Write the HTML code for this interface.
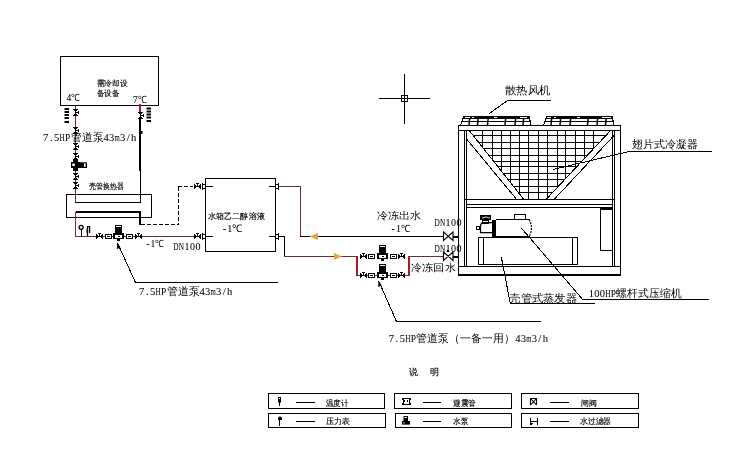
<!DOCTYPE html>
<html><head><meta charset="utf-8">
<style>
html,body{margin:0;padding:0;background:#fff;width:756px;height:459px;overflow:hidden}
svg{display:block;will-change:transform}
text{font-family:"Liberation Sans",sans-serif;stroke:#000;stroke-width:0.15px}
text.sf{font-family:"Liberation Serif",serif}
</style></head><body>
<svg width="756" height="459" viewBox="0 0 756 459">
<rect x="60" y="56" width="99" height="1" fill="#000"/>
<rect x="60" y="105" width="99" height="1" fill="#000"/>
<rect x="60" y="56" width="1" height="50" fill="#000"/>
<rect x="158" y="56" width="1" height="50" fill="#000"/>
<rect x="75" y="106" width="1" height="96" fill="#74283a"/>
<rect x="75" y="202" width="66" height="1" fill="#000"/>
<rect x="139" y="104" width="2" height="8" fill="#a31c2c"/>
<rect x="138" y="112" width="5" height="1" fill="#000"/>
<rect x="138" y="118" width="5" height="1" fill="#000"/>
<rect x="140" y="112" width="1" height="7" fill="#000"/>
<rect x="143" y="114" width="1" height="3" fill="#000"/>
<rect x="141" y="115" width="3" height="1" fill="#000"/>
<rect x="139" y="113" width="1" height="1" fill="#000"/>
<rect x="141" y="113" width="1" height="1" fill="#000"/>
<rect x="139" y="117" width="1" height="1" fill="#000"/>
<rect x="141" y="117" width="1" height="1" fill="#000"/>
<rect x="139" y="119" width="2" height="52" fill="#000"/>
<rect x="140" y="171" width="1" height="32" fill="#000"/>
<rect x="141" y="131" width="1.5" height="3" fill="#000"/>
<rect x="73" y="109" width="5" height="1" fill="#000"/>
<rect x="73" y="115" width="5" height="1" fill="#000"/>
<rect x="75" y="109" width="1" height="7" fill="#000"/>
<rect x="78" y="111" width="1" height="3" fill="#000"/>
<rect x="76" y="112" width="3" height="1" fill="#000"/>
<rect x="74" y="110" width="1" height="1" fill="#000"/>
<rect x="76" y="110" width="1" height="1" fill="#000"/>
<rect x="74" y="114" width="1" height="1" fill="#000"/>
<rect x="76" y="114" width="1" height="1" fill="#000"/>
<rect x="73" y="127" width="5" height="1" fill="#000"/>
<rect x="73" y="133" width="5" height="1" fill="#000"/>
<rect x="75" y="127" width="1" height="7" fill="#000"/>
<rect x="78" y="129" width="1" height="3" fill="#000"/>
<rect x="76" y="130" width="3" height="1" fill="#000"/>
<rect x="74" y="128" width="1" height="1" fill="#000"/>
<rect x="76" y="128" width="1" height="1" fill="#000"/>
<rect x="74" y="132" width="1" height="1" fill="#000"/>
<rect x="76" y="132" width="1" height="1" fill="#000"/>
<rect x="73" y="143" width="5" height="1" fill="#000"/>
<rect x="73" y="149" width="5" height="1" fill="#000"/>
<rect x="75" y="143" width="1" height="7" fill="#000"/>
<rect x="78" y="145" width="1" height="3" fill="#000"/>
<rect x="76" y="146" width="3" height="1" fill="#000"/>
<rect x="74" y="144" width="1" height="1" fill="#000"/>
<rect x="76" y="144" width="1" height="1" fill="#000"/>
<rect x="74" y="148" width="1" height="1" fill="#000"/>
<rect x="76" y="148" width="1" height="1" fill="#000"/>
<rect x="73" y="153" width="5" height="1" fill="#000"/>
<rect x="73" y="159" width="5" height="1" fill="#000"/>
<rect x="75" y="153" width="1" height="7" fill="#000"/>
<rect x="78" y="155" width="1" height="3" fill="#000"/>
<rect x="76" y="156" width="3" height="1" fill="#000"/>
<rect x="74" y="154" width="1" height="1" fill="#000"/>
<rect x="76" y="154" width="1" height="1" fill="#000"/>
<rect x="74" y="158" width="1" height="1" fill="#000"/>
<rect x="76" y="158" width="1" height="1" fill="#000"/>
<rect x="73" y="160" width="5" height="11" fill="#000"/>
<rect x="71" y="162" width="9" height="6" fill="#000"/><rect x="72.3" y="163.5" width="2.5" height="2.5" fill="#fff"/>
<rect x="80" y="162.3" width="7" height="5.7" fill="#000"/><rect x="84" y="163.3" width="1.6" height="3.6" fill="#fff"/>
<rect x="73" y="173" width="5" height="1" fill="#000"/>
<rect x="73" y="179" width="5" height="1" fill="#000"/>
<rect x="75" y="173" width="1" height="7" fill="#000"/>
<rect x="78" y="175" width="1" height="3" fill="#000"/>
<rect x="76" y="176" width="3" height="1" fill="#000"/>
<rect x="74" y="174" width="1" height="1" fill="#000"/>
<rect x="76" y="174" width="1" height="1" fill="#000"/>
<rect x="74" y="178" width="1" height="1" fill="#000"/>
<rect x="76" y="178" width="1" height="1" fill="#000"/>
<rect x="73" y="182" width="5" height="1" fill="#000"/>
<rect x="73" y="188" width="5" height="1" fill="#000"/>
<rect x="75" y="182" width="1" height="7" fill="#000"/>
<rect x="78" y="184" width="1" height="3" fill="#000"/>
<rect x="76" y="185" width="3" height="1" fill="#000"/>
<rect x="74" y="183" width="1" height="1" fill="#000"/>
<rect x="76" y="183" width="1" height="1" fill="#000"/>
<rect x="74" y="187" width="1" height="1" fill="#000"/>
<rect x="76" y="187" width="1" height="1" fill="#000"/>
<rect x="64.5" y="108" width="4.5" height="2" fill="#000"/>
<rect x="64.5" y="111" width="4.5" height="2" fill="#000"/>
<rect x="64.5" y="114" width="4.5" height="2" fill="#000"/>
<rect x="64.5" y="117" width="4.5" height="2" fill="#000"/>
<rect x="64.5" y="121" width="4.5" height="2" fill="#000"/>
<rect x="146.5" y="107.5" width="4.5" height="2" fill="#000"/>
<rect x="146.5" y="110.5" width="4.5" height="2" fill="#000"/>
<rect x="146.5" y="113.5" width="4.5" height="2" fill="#000"/>
<rect x="146.5" y="116.5" width="4.5" height="2" fill="#000"/>
<rect x="146.5" y="120" width="4.5" height="2" fill="#000"/>
<rect x="66" y="194" width="86" height="1" fill="#000"/>
<rect x="66" y="217" width="86" height="1" fill="#000"/>
<rect x="66" y="194" width="1" height="24" fill="#000"/>
<rect x="151" y="194" width="1" height="24" fill="#000"/>
<rect x="76" y="211" width="65" height="2" fill="#000"/>
<rect x="139" y="211" width="2" height="14" fill="#000"/>
<rect x="75" y="212" width="1" height="25" fill="#74283a"/>
<rect x="75" y="236" width="119" height="1" fill="#74283a"/>
<rect x="141" y="224" width="4" height="1" fill="#000"/>
<rect x="147" y="224" width="4" height="1" fill="#000"/>
<rect x="153" y="224" width="4" height="1" fill="#000"/>
<rect x="159" y="224" width="4" height="1" fill="#000"/>
<rect x="165" y="224" width="4" height="1" fill="#000"/>
<rect x="171" y="224" width="4" height="1" fill="#000"/>
<rect x="177" y="224" width="2" height="1" fill="#000"/>
<rect x="178" y="187" width="1" height="4" fill="#000"/>
<rect x="178" y="193" width="1" height="4" fill="#000"/>
<rect x="178" y="199" width="1" height="4" fill="#000"/>
<rect x="178" y="205" width="1" height="4" fill="#000"/>
<rect x="178" y="211" width="1" height="4" fill="#000"/>
<rect x="178" y="217" width="1" height="4" fill="#000"/>
<rect x="178" y="223" width="1" height="2" fill="#000"/>
<rect x="178" y="186" width="4" height="1" fill="#000"/>
<rect x="184" y="186" width="4" height="1" fill="#000"/>
<rect x="190" y="186" width="3" height="1" fill="#000"/>
<circle cx="81.1" cy="227.3" r="2" fill="#fff" stroke="#000" stroke-width="1.3"/>
<rect x="81" y="229" width="1" height="8" fill="#000"/>
<path d="M87.5,236 V226.6 H89.6 V233" stroke="#000" stroke-width="1.2" fill="none"/>
<rect x="86.5" y="229" width="1.6" height="4" fill="#000"/>
<rect x="96" y="234" width="1" height="5" fill="#000"/>
<rect x="102" y="234" width="1" height="5" fill="#000"/>
<rect x="96" y="236" width="7" height="1" fill="#000"/>
<rect x="98" y="233" width="3" height="1" fill="#000"/>
<rect x="99" y="233" width="1" height="3" fill="#000"/>
<rect x="97" y="235" width="1" height="1" fill="#000"/>
<rect x="97" y="237" width="1" height="1" fill="#000"/>
<rect x="101" y="235" width="1" height="1" fill="#000"/>
<rect x="101" y="237" width="1" height="1" fill="#000"/>
<rect x="105" y="234" width="7" height="5" fill="#fff"/>
<rect x="105" y="234" width="7" height="1" fill="#000"/>
<rect x="105" y="238" width="7" height="1" fill="#000"/>
<rect x="105" y="234" width="1" height="5" fill="#000"/>
<rect x="111" y="234" width="1" height="5" fill="#000"/>
<rect x="107" y="236" width="3" height="1" fill="#000"/>
<rect x="105" y="238" width="7" height="1" fill="#000"/>
<rect x="115" y="225" width="7" height="9" fill="#000"/>
<rect x="116" y="226" width="5" height="1" fill="#fff"/>
<rect x="113" y="233" width="11" height="6" fill="#000"/>
<rect x="115" y="235" width="7" height="3" fill="#fff"/>
<rect x="118" y="236" width="2" height="1" fill="#000"/>
<rect x="117" y="239" width="3" height="2" fill="#000"/>
<rect x="126" y="234" width="7" height="5" fill="#fff"/>
<rect x="126" y="234" width="7" height="1" fill="#000"/>
<rect x="126" y="238" width="7" height="1" fill="#000"/>
<rect x="126" y="234" width="1" height="5" fill="#000"/>
<rect x="132" y="234" width="1" height="5" fill="#000"/>
<rect x="128" y="236" width="3" height="1" fill="#000"/>
<rect x="126" y="238" width="7" height="1" fill="#000"/>
<rect x="135" y="234" width="1" height="5" fill="#000"/>
<rect x="141" y="234" width="1" height="5" fill="#000"/>
<rect x="135" y="236" width="7" height="1" fill="#000"/>
<rect x="137" y="233" width="3" height="1" fill="#000"/>
<rect x="138" y="233" width="1" height="3" fill="#000"/>
<rect x="136" y="235" width="1" height="1" fill="#000"/>
<rect x="136" y="237" width="1" height="1" fill="#000"/>
<rect x="140" y="235" width="1" height="1" fill="#000"/>
<rect x="140" y="237" width="1" height="1" fill="#000"/>
<rect x="205" y="178" width="71" height="1" fill="#000"/>
<rect x="205" y="251" width="71" height="1" fill="#000"/>
<rect x="205" y="178" width="1" height="74" fill="#000"/>
<rect x="275" y="178" width="1" height="74" fill="#000"/>
<rect x="194" y="184" width="1" height="5" fill="#000"/>
<rect x="200" y="184" width="1" height="5" fill="#000"/>
<rect x="194" y="186" width="7" height="1" fill="#000"/>
<rect x="196" y="183" width="3" height="1" fill="#000"/>
<rect x="197" y="183" width="1" height="3" fill="#000"/>
<rect x="195" y="185" width="1" height="1" fill="#000"/>
<rect x="195" y="187" width="1" height="1" fill="#000"/>
<rect x="199" y="185" width="1" height="1" fill="#000"/>
<rect x="199" y="187" width="1" height="1" fill="#000"/>
<rect x="202" y="183" width="1" height="7" fill="#000"/>
<rect x="202" y="184" width="4" height="1" fill="#000"/>
<rect x="202" y="188" width="4" height="1" fill="#000"/>
<rect x="202" y="184" width="1" height="5" fill="#000"/>
<rect x="205" y="184" width="1" height="5" fill="#000"/>
<rect x="205" y="186" width="8" height="1" fill="#000"/>
<rect x="269" y="186" width="7" height="1" fill="#000"/>
<rect x="275" y="184" width="4" height="1" fill="#000"/>
<rect x="275" y="188" width="4" height="1" fill="#000"/>
<rect x="275" y="184" width="1" height="5" fill="#000"/>
<rect x="278" y="184" width="1" height="5" fill="#000"/>
<rect x="278" y="183" width="1" height="7" fill="#000"/>
<rect x="194" y="234" width="1" height="5" fill="#000"/>
<rect x="200" y="234" width="1" height="5" fill="#000"/>
<rect x="194" y="236" width="7" height="1" fill="#000"/>
<rect x="196" y="233" width="3" height="1" fill="#000"/>
<rect x="197" y="233" width="1" height="3" fill="#000"/>
<rect x="195" y="235" width="1" height="1" fill="#000"/>
<rect x="195" y="237" width="1" height="1" fill="#000"/>
<rect x="199" y="235" width="1" height="1" fill="#000"/>
<rect x="199" y="237" width="1" height="1" fill="#000"/>
<rect x="202" y="233" width="1" height="7" fill="#000"/>
<rect x="202" y="234" width="4" height="1" fill="#000"/>
<rect x="202" y="238" width="4" height="1" fill="#000"/>
<rect x="202" y="234" width="1" height="5" fill="#000"/>
<rect x="205" y="234" width="1" height="5" fill="#000"/>
<rect x="205" y="236" width="8" height="1" fill="#000"/>
<rect x="269" y="236" width="7" height="1" fill="#000"/>
<rect x="275" y="234" width="4" height="1" fill="#000"/>
<rect x="275" y="238" width="4" height="1" fill="#000"/>
<rect x="275" y="234" width="1" height="5" fill="#000"/>
<rect x="278" y="234" width="1" height="5" fill="#000"/>
<rect x="278" y="233" width="1" height="7" fill="#000"/>
<rect x="279" y="186" width="22" height="1" fill="#74283a"/>
<rect x="300" y="186" width="1" height="51" fill="#74283a"/>
<rect x="300" y="236" width="144" height="1" fill="#000"/>
<rect x="279" y="236" width="6" height="1" fill="#000"/>
<rect x="284" y="236" width="1" height="21" fill="#000"/>
<rect x="284" y="256" width="73" height="1" fill="#74283a"/>
<rect x="356" y="256" width="2" height="20" fill="#a31c2c"/>
<rect x="408" y="256" width="2" height="20" fill="#a31c2c"/>
<rect x="356" y="275" width="54" height="1" fill="#74283a"/>
<rect x="409" y="256" width="35" height="1" fill="#74283a"/>
<rect x="360" y="254" width="1" height="5" fill="#000"/>
<rect x="366" y="254" width="1" height="5" fill="#000"/>
<rect x="360" y="256" width="7" height="1" fill="#000"/>
<rect x="362" y="253" width="3" height="1" fill="#000"/>
<rect x="363" y="253" width="1" height="3" fill="#000"/>
<rect x="361" y="255" width="1" height="1" fill="#000"/>
<rect x="361" y="257" width="1" height="1" fill="#000"/>
<rect x="365" y="255" width="1" height="1" fill="#000"/>
<rect x="365" y="257" width="1" height="1" fill="#000"/>
<rect x="368" y="254" width="7" height="5" fill="#fff"/>
<rect x="368" y="254" width="7" height="1" fill="#000"/>
<rect x="368" y="258" width="7" height="1" fill="#000"/>
<rect x="368" y="254" width="1" height="5" fill="#000"/>
<rect x="374" y="254" width="1" height="5" fill="#000"/>
<rect x="370" y="256" width="3" height="1" fill="#000"/>
<rect x="368" y="258" width="7" height="1" fill="#000"/>
<rect x="379" y="245" width="7" height="9" fill="#000"/>
<rect x="380" y="246" width="5" height="1" fill="#fff"/>
<rect x="377" y="253" width="11" height="6" fill="#000"/>
<rect x="379" y="255" width="7" height="3" fill="#fff"/>
<rect x="382" y="256" width="2" height="1" fill="#000"/>
<rect x="381" y="259" width="3" height="2" fill="#000"/>
<rect x="390" y="254" width="7" height="5" fill="#fff"/>
<rect x="390" y="254" width="7" height="1" fill="#000"/>
<rect x="390" y="258" width="7" height="1" fill="#000"/>
<rect x="390" y="254" width="1" height="5" fill="#000"/>
<rect x="396" y="254" width="1" height="5" fill="#000"/>
<rect x="392" y="256" width="3" height="1" fill="#000"/>
<rect x="390" y="258" width="7" height="1" fill="#000"/>
<rect x="398" y="254" width="1" height="5" fill="#000"/>
<rect x="404" y="254" width="1" height="5" fill="#000"/>
<rect x="398" y="256" width="7" height="1" fill="#000"/>
<rect x="400" y="253" width="3" height="1" fill="#000"/>
<rect x="401" y="253" width="1" height="3" fill="#000"/>
<rect x="399" y="255" width="1" height="1" fill="#000"/>
<rect x="399" y="257" width="1" height="1" fill="#000"/>
<rect x="403" y="255" width="1" height="1" fill="#000"/>
<rect x="403" y="257" width="1" height="1" fill="#000"/>
<rect x="360" y="273" width="1" height="5" fill="#000"/>
<rect x="366" y="273" width="1" height="5" fill="#000"/>
<rect x="360" y="275" width="7" height="1" fill="#000"/>
<rect x="362" y="272" width="3" height="1" fill="#000"/>
<rect x="363" y="272" width="1" height="3" fill="#000"/>
<rect x="361" y="274" width="1" height="1" fill="#000"/>
<rect x="361" y="276" width="1" height="1" fill="#000"/>
<rect x="365" y="274" width="1" height="1" fill="#000"/>
<rect x="365" y="276" width="1" height="1" fill="#000"/>
<rect x="368" y="273" width="7" height="5" fill="#fff"/>
<rect x="368" y="273" width="7" height="1" fill="#000"/>
<rect x="368" y="277" width="7" height="1" fill="#000"/>
<rect x="368" y="273" width="1" height="5" fill="#000"/>
<rect x="374" y="273" width="1" height="5" fill="#000"/>
<rect x="370" y="275" width="3" height="1" fill="#000"/>
<rect x="368" y="277" width="7" height="1" fill="#000"/>
<rect x="379" y="264" width="7" height="9" fill="#000"/>
<rect x="380" y="265" width="5" height="1" fill="#fff"/>
<rect x="377" y="272" width="11" height="6" fill="#000"/>
<rect x="379" y="274" width="7" height="3" fill="#fff"/>
<rect x="382" y="275" width="2" height="1" fill="#000"/>
<rect x="381" y="278" width="3" height="2" fill="#000"/>
<rect x="390" y="273" width="7" height="5" fill="#fff"/>
<rect x="390" y="273" width="7" height="1" fill="#000"/>
<rect x="390" y="277" width="7" height="1" fill="#000"/>
<rect x="390" y="273" width="1" height="5" fill="#000"/>
<rect x="396" y="273" width="1" height="5" fill="#000"/>
<rect x="392" y="275" width="3" height="1" fill="#000"/>
<rect x="390" y="277" width="7" height="1" fill="#000"/>
<rect x="398" y="273" width="1" height="5" fill="#000"/>
<rect x="404" y="273" width="1" height="5" fill="#000"/>
<rect x="398" y="275" width="7" height="1" fill="#000"/>
<rect x="400" y="272" width="3" height="1" fill="#000"/>
<rect x="401" y="272" width="1" height="3" fill="#000"/>
<rect x="399" y="274" width="1" height="1" fill="#000"/>
<rect x="399" y="276" width="1" height="1" fill="#000"/>
<rect x="403" y="274" width="1" height="1" fill="#000"/>
<rect x="403" y="276" width="1" height="1" fill="#000"/>
<path d="M309.5,236.5 L318,233 L318,240Z" fill="#e8a040"/>
<path d="M342,256.5 L334,253 L334,260Z" fill="#e8a040"/>
<path d="M443.5,232V240.5 L453,232 V240.5Z" stroke="#000" stroke-width="1.1" fill="#fff"/>
<rect x="453" y="236" width="5" height="2" fill="#000"/>
<path d="M443.5,252V260.5 L453,252 V260.5Z" stroke="#000" stroke-width="1.1" fill="#fff"/>
<rect x="453" y="256" width="5" height="2" fill="#000"/>
<rect x="447" y="250" width="2" height="2" fill="#000"/>
<g fill="none" stroke="#000" stroke-width="1">
<path d="M117.5,243 L135.5,282.5" stroke="#000" stroke-width="1" fill="none" shape-rendering="crispEdges"/>
<path d="M378.7,281 L396.5,321.5" stroke="#000" stroke-width="1" fill="none" shape-rendering="crispEdges"/>
<path d="M489,113.7 L507.5,100.5" stroke="#000" stroke-width="1" fill="none" shape-rendering="crispEdges"/>
<path d="M553,169.5 L629,151.5" stroke="#000" stroke-width="1" fill="none" shape-rendering="crispEdges"/>
<path d="M501.3,256.7 L510.2,303" stroke="#000" stroke-width="1" fill="none" shape-rendering="crispEdges"/>
<path d="M521.3,228 L582.7,299.5" stroke="#000" stroke-width="1" fill="none" shape-rendering="crispEdges"/>
</g>
<rect x="135" y="282" width="143" height="1" fill="#000"/>
<rect x="396" y="321" width="145" height="1" fill="#000"/>
<rect x="507" y="100" width="44" height="1" fill="#000"/>
<rect x="629" y="151" width="83" height="1" fill="#000"/>
<rect x="510" y="303" width="85" height="1" fill="#000"/>
<rect x="582" y="299" width="127" height="1" fill="#000"/>
<path d="M117.2,242.5 L116.8,249 L120.5,247.5Z" fill="#000"/>
<path d="M378.5,280.5 L378.2,287 L381.8,285.5Z" fill="#000"/>
<rect x="379" y="98" width="51" height="1" fill="#000"/>
<rect x="404" y="74" width="1" height="50" fill="#000"/>
<rect x="401" y="95" width="7" height="1" fill="#000"/>
<rect x="401" y="101" width="7" height="1" fill="#000"/>
<rect x="401" y="95" width="1" height="7" fill="#000"/>
<rect x="407" y="95" width="1" height="7" fill="#000"/>
<rect x="402" y="96" width="5" height="5" fill="#fff"/>
<rect x="402" y="98" width="5" height="1" fill="#000"/>
<rect x="404" y="96" width="1" height="5" fill="#000"/>
<rect x="463" y="116" width="67" height="3" fill="#000"/>
<rect x="465" y="117" width="5" height="1" fill="#fff"/>
<rect x="472" y="117" width="2" height="1" fill="#fff"/>
<rect x="494" y="117" width="3" height="1" fill="#fff"/>
<rect x="520" y="117" width="7" height="1" fill="#fff"/>
<rect x="462" y="121" width="69" height="1" fill="#000"/>
<path d="M463.5,117 L460.5,125.5 M529.5,117 L530.8,125.5" stroke="#000" stroke-width="1.2" fill="none" shape-rendering="crispEdges"/>
<path d="M469.7,118 L469,125" stroke="#000" stroke-width="1.5" fill="none"/>
<path d="M478.2,118 L477.5,125" stroke="#000" stroke-width="1.5" fill="none"/>
<path d="M488.2,118 L487.5,125" stroke="#000" stroke-width="1.5" fill="none"/>
<path d="M505.7,118 L505,125" stroke="#000" stroke-width="1.5" fill="none"/>
<path d="M515.7,118 L515,125" stroke="#000" stroke-width="1.5" fill="none"/>
<path d="M523.7,118 L523,125" stroke="#000" stroke-width="1.5" fill="none"/>
<rect x="546" y="116" width="67" height="3" fill="#000"/>
<rect x="547" y="117" width="4" height="1" fill="#fff"/>
<rect x="554" y="117" width="2" height="1" fill="#fff"/>
<rect x="577" y="117" width="3" height="1" fill="#fff"/>
<rect x="602" y="117" width="9" height="1" fill="#fff"/>
<rect x="545" y="121" width="69" height="1" fill="#000"/>
<path d="M546.5,117 L543.5,125.5 M612.5,117 L613.8,125.5" stroke="#000" stroke-width="1.2" fill="none" shape-rendering="crispEdges"/>
<path d="M551.7,118 L551,125" stroke="#000" stroke-width="1.5" fill="none"/>
<path d="M560.7,118 L560,125" stroke="#000" stroke-width="1.5" fill="none"/>
<path d="M570.7,118 L570,125" stroke="#000" stroke-width="1.5" fill="none"/>
<path d="M588.2,118 L587.5,125" stroke="#000" stroke-width="1.5" fill="none"/>
<path d="M597.7,118 L597,125" stroke="#000" stroke-width="1.5" fill="none"/>
<path d="M606.2,118 L605.5,125" stroke="#000" stroke-width="1.5" fill="none"/>
<rect x="458" y="125" width="163" height="1" fill="#000"/>
<rect x="458" y="275" width="163" height="1" fill="#000"/>
<rect x="458" y="125" width="1" height="151" fill="#000"/>
<rect x="620" y="125" width="1" height="151" fill="#000"/>
<rect x="458" y="274" width="163" height="2" fill="#000"/>
<rect x="458" y="130" width="163" height="1" fill="#000"/>
<rect x="464" y="130" width="1" height="137" fill="#000"/>
<rect x="466" y="130" width="1" height="137" fill="#000"/>
<rect x="612" y="130" width="1" height="137" fill="#000"/>
<rect x="614" y="130" width="1" height="137" fill="#000"/>
<rect x="464" y="199" width="151" height="1" fill="#000"/>
<rect x="466" y="204" width="147" height="1" fill="#000"/>
<rect x="466" y="207" width="147" height="1" fill="#000"/>
<rect x="458" y="266" width="163" height="1" fill="#000"/>
<clipPath id="vclip"><path d="M469.2,130.5 L523.75,199.2 L546.25,199.2 L610.4,130.5Z"/></clipPath>
<g clip-path="url(#vclip)">
<rect x="482" y="130" width="1" height="70" fill="#000"/>
<rect x="492" y="130" width="1" height="70" fill="#000"/>
<rect x="501" y="130" width="1" height="70" fill="#000"/>
<rect x="510" y="130" width="1" height="70" fill="#000"/>
<rect x="519" y="130" width="1" height="70" fill="#000"/>
<rect x="528" y="130" width="1" height="70" fill="#000"/>
<rect x="538" y="130" width="1" height="70" fill="#000"/>
<rect x="547" y="130" width="1" height="70" fill="#000"/>
<rect x="557" y="130" width="1" height="70" fill="#000"/>
<rect x="565" y="130" width="1" height="70" fill="#000"/>
<rect x="575" y="130" width="1" height="70" fill="#000"/>
<rect x="584" y="130" width="1" height="70" fill="#000"/>
<rect x="593" y="130" width="1" height="70" fill="#000"/>
<rect x="466" y="135" width="149" height="1" fill="#000"/>
<rect x="466" y="142" width="149" height="1" fill="#000"/>
<rect x="466" y="148" width="149" height="1" fill="#000"/>
<rect x="466" y="155" width="149" height="1" fill="#000"/>
<rect x="466" y="161" width="149" height="1" fill="#000"/>
<rect x="466" y="166" width="149" height="1" fill="#000"/>
<rect x="466" y="173" width="149" height="1" fill="#000"/>
<rect x="466" y="179" width="149" height="1" fill="#000"/>
<rect x="466" y="186" width="149" height="1" fill="#000"/>
<rect x="466" y="192" width="149" height="1" fill="#000"/>
</g>
<g fill="none" stroke="#000" stroke-width="1.1">
<path d="M469.2,130.5 L523.75,199.3" stroke="#000" stroke-width="1" fill="none" shape-rendering="crispEdges"/>
<path d="M467,139.5 L516.5,199.3" stroke="#000" stroke-width="1" fill="none" shape-rendering="crispEdges"/>
<path d="M610.6,130.5 L546.25,199.3" stroke="#000" stroke-width="1" fill="none" shape-rendering="crispEdges"/>
<path d="M614.5,135 L554.2,199.3" stroke="#000" stroke-width="1" fill="none" shape-rendering="crispEdges"/>
</g>
<rect x="480" y="215" width="11" height="5" fill="#000"/>
<path d="M482,217.8 h2 l1,-0.8 h2 l1,0.8 h2" stroke="#fff" stroke-width="0.9" fill="none"/>
<rect x="482" y="220" width="7" height="1" fill="#000"/>
<rect x="482" y="223" width="7" height="1" fill="#000"/>
<rect x="482" y="220" width="1" height="4" fill="#000"/>
<rect x="488" y="220" width="1" height="4" fill="#000"/>
<path d="M492.3,222.6 H483.5 Q480.5,223 480.5,226.5 V232.6 H492.3" stroke="#000" stroke-width="1.2" fill="none"/>
<rect x="476" y="226" width="4" height="1" fill="#000"/>
<rect x="476" y="229" width="4" height="1" fill="#000"/>
<rect x="476" y="226" width="1" height="4" fill="#000"/>
<rect x="479" y="226" width="1" height="4" fill="#000"/>
<rect x="492" y="220" width="4" height="17" fill="#000"/>
<rect x="496" y="219" width="34" height="1" fill="#000"/>
<rect x="492" y="236" width="38" height="2" fill="#000"/>
<path d="M529,219.5 Q534,228 529,236.5" stroke="#000" stroke-width="1.2" fill="none" stroke-dasharray="2,1"/>
<rect x="514" y="214" width="12" height="1" fill="#000"/>
<rect x="514" y="219" width="12" height="1" fill="#000"/>
<rect x="514" y="214" width="1" height="6" fill="#000"/>
<rect x="525" y="214" width="1" height="6" fill="#000"/>
<rect x="478" y="237" width="100" height="1" fill="#000"/>
<rect x="478" y="264" width="100" height="1" fill="#000"/>
<rect x="478" y="237" width="1" height="28" fill="#000"/>
<rect x="577" y="237" width="1" height="28" fill="#000"/>
<rect x="483" y="237" width="1" height="28" fill="#000"/>
<rect x="572" y="237" width="1" height="28" fill="#000"/>
<rect x="600" y="208" width="13" height="1" fill="#000"/>
<rect x="600" y="250" width="13" height="1" fill="#000"/>
<rect x="600" y="208" width="1" height="43" fill="#000"/>
<rect x="612" y="208" width="1" height="43" fill="#000"/>
<rect x="600" y="208" width="13" height="2" fill="#000"/>
<text x="96.7" y="86.2" font-size="7.5" fill="#000" textLength="30.80" lengthAdjust="spacingAndGlyphs">需冷却设</text>
<text x="96.7" y="95.8" font-size="7.5" fill="#000" textLength="22.80" lengthAdjust="spacingAndGlyphs">备设备</text>
<text x="89" y="188.5" font-size="7.5" fill="#000" textLength="34.50" lengthAdjust="spacingAndGlyphs">壳管换热器</text>
<text x="208.3" y="219" font-size="7.5" fill="#000" textLength="56.35" lengthAdjust="spacingAndGlyphs">水箱乙二醇溶液</text>
<text x="66.40" y="101.2" font-size="10" class="sf" fill="#000" style="stroke-width:0.06px" textLength="4.80" lengthAdjust="spacingAndGlyphs">4</text>
<text x="71.30" y="101.2" font-size="10" fill="#000" style="stroke:none" textLength="8.82" lengthAdjust="spacingAndGlyphs">℃</text>
<text x="132.90" y="103" font-size="10" class="sf" fill="#000" style="stroke-width:0.06px" textLength="4.80" lengthAdjust="spacingAndGlyphs">7</text>
<text x="137.80" y="103" font-size="10" fill="#000" style="stroke:none" textLength="8.82" lengthAdjust="spacingAndGlyphs">℃</text>
<text x="146.14" y="247.3" font-size="10" class="sf" fill="#000" style="stroke-width:0.06px">-</text>
<text x="150.40" y="247.3" font-size="10" class="sf" fill="#000" style="stroke-width:0.06px" textLength="4.80" lengthAdjust="spacingAndGlyphs">1</text>
<text x="155.30" y="247.3" font-size="10" fill="#000" style="stroke:none" textLength="8.82" lengthAdjust="spacingAndGlyphs">℃</text>
<text x="222.70" y="232" font-size="10.5" class="sf" fill="#000" style="stroke-width:0.06px">-</text>
<text x="227.21" y="232" font-size="10.5" class="sf" fill="#000" style="stroke-width:0.06px" textLength="5.09" lengthAdjust="spacingAndGlyphs">1</text>
<text x="232.40" y="232" font-size="10.5" fill="#000" style="stroke:none" textLength="9.80" lengthAdjust="spacingAndGlyphs">℃</text>
<text x="43.11" y="140.8" font-size="11" class="sf" fill="#000" style="stroke-width:0.06px" textLength="5.28" lengthAdjust="spacingAndGlyphs">7</text>
<text x="49.88" y="140.8" font-size="11" class="sf" fill="#000" style="stroke-width:0.06px">.</text>
<text x="54.11" y="140.8" font-size="11" class="sf" fill="#000" style="stroke-width:0.06px" textLength="5.28" lengthAdjust="spacingAndGlyphs">5</text>
<text x="59.61" y="140.8" font-size="11" class="sf" fill="#000" style="stroke-width:0.06px" textLength="5.28" lengthAdjust="spacingAndGlyphs">H</text>
<text x="65.11" y="140.8" font-size="11" class="sf" fill="#000" style="stroke-width:0.06px" textLength="5.28" lengthAdjust="spacingAndGlyphs">P</text>
<text x="70.50" y="140.8" font-size="11" fill="#000" style="stroke:none" textLength="10.78" lengthAdjust="spacingAndGlyphs">管</text>
<text x="81.50" y="140.8" font-size="11" fill="#000" style="stroke:none" textLength="10.78" lengthAdjust="spacingAndGlyphs">道</text>
<text x="92.50" y="140.8" font-size="11" fill="#000" style="stroke:none" textLength="10.78" lengthAdjust="spacingAndGlyphs">泵</text>
<text x="103.61" y="140.8" font-size="11" class="sf" fill="#000" style="stroke-width:0.06px" textLength="5.28" lengthAdjust="spacingAndGlyphs">4</text>
<text x="109.11" y="140.8" font-size="11" class="sf" fill="#000" style="stroke-width:0.06px" textLength="5.28" lengthAdjust="spacingAndGlyphs">3</text>
<text x="114.61" y="140.8" font-size="11" class="sf" fill="#000" style="stroke-width:0.06px" textLength="5.28" lengthAdjust="spacingAndGlyphs">m</text>
<text x="120.11" y="140.8" font-size="11" class="sf" fill="#000" style="stroke-width:0.06px" textLength="5.28" lengthAdjust="spacingAndGlyphs">3</text>
<text x="126.72" y="140.8" font-size="11" class="sf" fill="#000" style="stroke-width:0.06px">/</text>
<text x="131.11" y="140.8" font-size="11" class="sf" fill="#000" style="stroke-width:0.06px" textLength="5.28" lengthAdjust="spacingAndGlyphs">h</text>
<text x="139.11" y="295" font-size="11" class="sf" fill="#000" style="stroke-width:0.06px" textLength="5.28" lengthAdjust="spacingAndGlyphs">7</text>
<text x="145.88" y="295" font-size="11" class="sf" fill="#000" style="stroke-width:0.06px">.</text>
<text x="150.11" y="295" font-size="11" class="sf" fill="#000" style="stroke-width:0.06px" textLength="5.28" lengthAdjust="spacingAndGlyphs">5</text>
<text x="155.61" y="295" font-size="11" class="sf" fill="#000" style="stroke-width:0.06px" textLength="5.28" lengthAdjust="spacingAndGlyphs">H</text>
<text x="161.11" y="295" font-size="11" class="sf" fill="#000" style="stroke-width:0.06px" textLength="5.28" lengthAdjust="spacingAndGlyphs">P</text>
<text x="166.50" y="295" font-size="11" fill="#000" style="stroke:none" textLength="10.78" lengthAdjust="spacingAndGlyphs">管</text>
<text x="177.50" y="295" font-size="11" fill="#000" style="stroke:none" textLength="10.78" lengthAdjust="spacingAndGlyphs">道</text>
<text x="188.50" y="295" font-size="11" fill="#000" style="stroke:none" textLength="10.78" lengthAdjust="spacingAndGlyphs">泵</text>
<text x="199.61" y="295" font-size="11" class="sf" fill="#000" style="stroke-width:0.06px" textLength="5.28" lengthAdjust="spacingAndGlyphs">4</text>
<text x="205.11" y="295" font-size="11" class="sf" fill="#000" style="stroke-width:0.06px" textLength="5.28" lengthAdjust="spacingAndGlyphs">3</text>
<text x="210.61" y="295" font-size="11" class="sf" fill="#000" style="stroke-width:0.06px" textLength="5.28" lengthAdjust="spacingAndGlyphs">m</text>
<text x="216.11" y="295" font-size="11" class="sf" fill="#000" style="stroke-width:0.06px" textLength="5.28" lengthAdjust="spacingAndGlyphs">3</text>
<text x="222.72" y="295" font-size="11" class="sf" fill="#000" style="stroke-width:0.06px">/</text>
<text x="227.11" y="295" font-size="11" class="sf" fill="#000" style="stroke-width:0.06px" textLength="5.28" lengthAdjust="spacingAndGlyphs">h</text>
<text x="388.71" y="341.6" font-size="11" class="sf" fill="#000" style="stroke-width:0.06px" textLength="5.28" lengthAdjust="spacingAndGlyphs">7</text>
<text x="395.48" y="341.6" font-size="11" class="sf" fill="#000" style="stroke-width:0.06px">.</text>
<text x="399.71" y="341.6" font-size="11" class="sf" fill="#000" style="stroke-width:0.06px" textLength="5.28" lengthAdjust="spacingAndGlyphs">5</text>
<text x="405.21" y="341.6" font-size="11" class="sf" fill="#000" style="stroke-width:0.06px" textLength="5.28" lengthAdjust="spacingAndGlyphs">H</text>
<text x="410.71" y="341.6" font-size="11" class="sf" fill="#000" style="stroke-width:0.06px" textLength="5.28" lengthAdjust="spacingAndGlyphs">P</text>
<text x="416.10" y="341.6" font-size="11" fill="#000" style="stroke:none" textLength="10.78" lengthAdjust="spacingAndGlyphs">管</text>
<text x="427.10" y="341.6" font-size="11" fill="#000" style="stroke:none" textLength="10.78" lengthAdjust="spacingAndGlyphs">道</text>
<text x="438.10" y="341.6" font-size="11" fill="#000" style="stroke:none" textLength="10.78" lengthAdjust="spacingAndGlyphs">泵</text>
<text x="449.10" y="341.6" font-size="11" fill="#000" style="stroke:none" textLength="10.78" lengthAdjust="spacingAndGlyphs">（</text>
<text x="460.10" y="341.6" font-size="11" fill="#000" style="stroke:none" textLength="10.78" lengthAdjust="spacingAndGlyphs">一</text>
<text x="471.10" y="341.6" font-size="11" fill="#000" style="stroke:none" textLength="10.78" lengthAdjust="spacingAndGlyphs">备</text>
<text x="482.10" y="341.6" font-size="11" fill="#000" style="stroke:none" textLength="10.78" lengthAdjust="spacingAndGlyphs">一</text>
<text x="493.10" y="341.6" font-size="11" fill="#000" style="stroke:none" textLength="10.78" lengthAdjust="spacingAndGlyphs">用</text>
<text x="504.10" y="341.6" font-size="11" fill="#000" style="stroke:none" textLength="10.78" lengthAdjust="spacingAndGlyphs">）</text>
<text x="515.21" y="341.6" font-size="11" class="sf" fill="#000" style="stroke-width:0.06px" textLength="5.28" lengthAdjust="spacingAndGlyphs">4</text>
<text x="520.71" y="341.6" font-size="11" class="sf" fill="#000" style="stroke-width:0.06px" textLength="5.28" lengthAdjust="spacingAndGlyphs">3</text>
<text x="526.21" y="341.6" font-size="11" class="sf" fill="#000" style="stroke-width:0.06px" textLength="5.28" lengthAdjust="spacingAndGlyphs">m</text>
<text x="531.71" y="341.6" font-size="11" class="sf" fill="#000" style="stroke-width:0.06px" textLength="5.28" lengthAdjust="spacingAndGlyphs">3</text>
<text x="538.32" y="341.6" font-size="11" class="sf" fill="#000" style="stroke-width:0.06px">/</text>
<text x="542.71" y="341.6" font-size="11" class="sf" fill="#000" style="stroke-width:0.06px" textLength="5.28" lengthAdjust="spacingAndGlyphs">h</text>
<text x="173.31" y="249.8" font-size="10" class="sf" fill="#000" style="stroke-width:0.06px" textLength="5.28" lengthAdjust="spacingAndGlyphs">D</text>
<text x="178.81" y="249.8" font-size="10" class="sf" fill="#000" style="stroke-width:0.06px" textLength="5.28" lengthAdjust="spacingAndGlyphs">N</text>
<text x="184.45" y="249.8" font-size="10" class="sf" fill="#000" style="stroke-width:0.06px">1</text>
<text x="189.95" y="249.8" font-size="10" class="sf" fill="#000" style="stroke-width:0.06px">0</text>
<text x="195.45" y="249.8" font-size="10" class="sf" fill="#000" style="stroke-width:0.06px">0</text>
<text x="434.41" y="226.2" font-size="10" class="sf" fill="#000" style="stroke-width:0.06px" textLength="5.28" lengthAdjust="spacingAndGlyphs">D</text>
<text x="439.91" y="226.2" font-size="10" class="sf" fill="#000" style="stroke-width:0.06px" textLength="5.28" lengthAdjust="spacingAndGlyphs">N</text>
<text x="445.55" y="226.2" font-size="10" class="sf" fill="#000" style="stroke-width:0.06px">1</text>
<text x="451.05" y="226.2" font-size="10" class="sf" fill="#000" style="stroke-width:0.06px">0</text>
<text x="456.55" y="226.2" font-size="10" class="sf" fill="#000" style="stroke-width:0.06px">0</text>
<text x="434.41" y="251.7" font-size="10" class="sf" fill="#000" style="stroke-width:0.06px" textLength="5.28" lengthAdjust="spacingAndGlyphs">D</text>
<text x="439.91" y="251.7" font-size="10" class="sf" fill="#000" style="stroke-width:0.06px" textLength="5.28" lengthAdjust="spacingAndGlyphs">N</text>
<text x="445.55" y="251.7" font-size="10" class="sf" fill="#000" style="stroke-width:0.06px">1</text>
<text x="451.05" y="251.7" font-size="10" class="sf" fill="#000" style="stroke-width:0.06px">0</text>
<text x="456.55" y="251.7" font-size="10" class="sf" fill="#000" style="stroke-width:0.06px">0</text>
<text x="588.71" y="297.3" font-size="11" class="sf" fill="#000" style="stroke-width:0.06px" textLength="5.28" lengthAdjust="spacingAndGlyphs">1</text>
<text x="594.21" y="297.3" font-size="11" class="sf" fill="#000" style="stroke-width:0.06px" textLength="5.28" lengthAdjust="spacingAndGlyphs">0</text>
<text x="599.71" y="297.3" font-size="11" class="sf" fill="#000" style="stroke-width:0.06px" textLength="5.28" lengthAdjust="spacingAndGlyphs">0</text>
<text x="605.21" y="297.3" font-size="11" class="sf" fill="#000" style="stroke-width:0.06px" textLength="5.28" lengthAdjust="spacingAndGlyphs">H</text>
<text x="610.71" y="297.3" font-size="11" class="sf" fill="#000" style="stroke-width:0.06px" textLength="5.28" lengthAdjust="spacingAndGlyphs">P</text>
<text x="616.10" y="297.3" font-size="11" fill="#000" style="stroke:none" textLength="10.78" lengthAdjust="spacingAndGlyphs">螺</text>
<text x="627.10" y="297.3" font-size="11" fill="#000" style="stroke:none" textLength="10.78" lengthAdjust="spacingAndGlyphs">杆</text>
<text x="638.10" y="297.3" font-size="11" fill="#000" style="stroke:none" textLength="10.78" lengthAdjust="spacingAndGlyphs">式</text>
<text x="649.10" y="297.3" font-size="11" fill="#000" style="stroke:none" textLength="10.78" lengthAdjust="spacingAndGlyphs">压</text>
<text x="660.10" y="297.3" font-size="11" fill="#000" style="stroke:none" textLength="10.78" lengthAdjust="spacingAndGlyphs">缩</text>
<text x="671.10" y="297.3" font-size="11" fill="#000" style="stroke:none" textLength="10.78" lengthAdjust="spacingAndGlyphs">机</text>
<text x="377" y="219.2" font-size="10" fill="#000" style="stroke:none" textLength="44.40" lengthAdjust="spacingAndGlyphs">冷冻出水</text>
<text x="391.59" y="231.8" font-size="10" class="sf" fill="#000" style="stroke-width:0.06px">-</text>
<text x="396.05" y="231.8" font-size="10" class="sf" fill="#000" style="stroke-width:0.06px">1</text>
<text x="401.20" y="231.8" font-size="10" fill="#000" style="stroke:none" textLength="9.31" lengthAdjust="spacingAndGlyphs">℃</text>
<text x="411.3" y="271.3" font-size="10" fill="#000" style="stroke:none" textLength="44.40" lengthAdjust="spacingAndGlyphs">冷冻回水</text>
<text x="505" y="94.2" font-size="10.5" fill="#000" style="stroke:none" textLength="45.20" lengthAdjust="spacingAndGlyphs">散热风机</text>
<text x="631.7" y="148.2" font-size="11" fill="#000" style="stroke:none" textLength="66.00" lengthAdjust="spacingAndGlyphs">翅片式冷凝器</text>
<text x="509.3" y="301.8" font-size="10.5" fill="#000" style="stroke:none" textLength="67.80" lengthAdjust="spacingAndGlyphs">壳管式蒸发器</text>
<text x="409.3" y="375" font-size="9" fill="#000">说</text><text x="429.8" y="375" font-size="9" fill="#000">明</text>
<rect x="268" y="393" width="117" height="1" fill="#000"/>
<rect x="268" y="408" width="117" height="1" fill="#000"/>
<rect x="268" y="393" width="1" height="16" fill="#000"/>
<rect x="384" y="393" width="1" height="16" fill="#000"/>
<rect x="268" y="413" width="118" height="1" fill="#000"/>
<rect x="268" y="427" width="118" height="1" fill="#000"/>
<rect x="268" y="413" width="1" height="15" fill="#000"/>
<rect x="385" y="413" width="1" height="15" fill="#000"/>
<rect x="394" y="393" width="118" height="1" fill="#000"/>
<rect x="394" y="408" width="118" height="1" fill="#000"/>
<rect x="394" y="393" width="1" height="16" fill="#000"/>
<rect x="511" y="393" width="1" height="16" fill="#000"/>
<rect x="395" y="413" width="117" height="1" fill="#000"/>
<rect x="395" y="427" width="117" height="1" fill="#000"/>
<rect x="395" y="413" width="1" height="15" fill="#000"/>
<rect x="511" y="413" width="1" height="15" fill="#000"/>
<rect x="521" y="393" width="118" height="1" fill="#000"/>
<rect x="521" y="408" width="118" height="1" fill="#000"/>
<rect x="521" y="393" width="1" height="16" fill="#000"/>
<rect x="638" y="393" width="1" height="16" fill="#000"/>
<rect x="521" y="413" width="118" height="1" fill="#000"/>
<rect x="521" y="427" width="118" height="1" fill="#000"/>
<rect x="521" y="413" width="1" height="15" fill="#000"/>
<rect x="638" y="413" width="1" height="15" fill="#000"/>
<rect x="296" y="402" width="19" height="1" fill="#000"/>
<rect x="296" y="421" width="19" height="1" fill="#000"/>
<rect x="423" y="402" width="18" height="1" fill="#000"/>
<rect x="423" y="421" width="18" height="1" fill="#000"/>
<rect x="550" y="402" width="19" height="1" fill="#000"/>
<rect x="550" y="421" width="19" height="1" fill="#000"/>
<rect x="278" y="397" width="3" height="5.5" fill="#000"/><rect x="279" y="398" width="1" height="1" fill="#fff"/>
<rect x="279" y="402" width="1" height="4" fill="#000"/>
<path d="M278,420 V418 Q278,416.5 279.8,416.5 Q282,416.5 282,418.5 V420Z" fill="#000"/>
<rect x="279" y="420" width="1" height="6" fill="#000"/>
<rect x="402" y="398" width="9" height="1" fill="#000"/>
<rect x="402" y="404" width="9" height="1" fill="#000"/>
<rect x="402" y="398" width="1" height="2" fill="#000"/>
<rect x="402" y="403" width="1" height="2" fill="#000"/>
<rect x="403" y="399" width="1" height="5" fill="#000"/>
<rect x="410" y="398" width="1" height="2" fill="#000"/>
<rect x="410" y="403" width="1" height="2" fill="#000"/>
<rect x="409" y="399" width="1" height="5" fill="#000"/>
<rect x="404" y="400" width="1" height="2" fill="#000"/><rect x="407" y="400" width="1" height="2" fill="#000"/>
<rect x="403.5" y="416" width="4.5" height="5.5" fill="#000"/><rect x="404.5" y="417" width="2.5" height="1" fill="#fff"/>
<rect x="402" y="421" width="8" height="3.6" fill="#000"/><rect x="403.3" y="422.3" width="1.2" height="1.2" fill="#fff"/>
<path d="M530.5,398 V405 M536.5,398 V405 M530.5,398.5 L536.5,405 M536.5,398.5 L530.5,405 M530.5,398.5 H536.5" stroke="#000" stroke-width="1.1" fill="none"/>
<path d="M530.5,418 V425 M537.5,418 V425 M530.5,421.5 H537.5 M530.5,424.5 L533,423.5" stroke="#000" stroke-width="1.1" fill="none" shape-rendering="crispEdges"/>
<text x="325.8" y="405.5" font-size="8" fill="#000" textLength="22.80" lengthAdjust="spacingAndGlyphs">温度计</text>
<text x="326" y="423.8" font-size="8" fill="#000" textLength="23.40" lengthAdjust="spacingAndGlyphs">压力表</text>
<text x="453.2" y="405.5" font-size="8" fill="#000" textLength="22.80" lengthAdjust="spacingAndGlyphs">避震管</text>
<text x="453.3" y="423.8" font-size="8" fill="#000" textLength="15.00" lengthAdjust="spacingAndGlyphs">水泵</text>
<text x="580.8" y="405.5" font-size="8" fill="#000" textLength="15.80" lengthAdjust="spacingAndGlyphs">闸阀</text>
<text x="580" y="423.8" font-size="8" fill="#000" textLength="31.20" lengthAdjust="spacingAndGlyphs">水过滤器</text>
</svg>
</body></html>
